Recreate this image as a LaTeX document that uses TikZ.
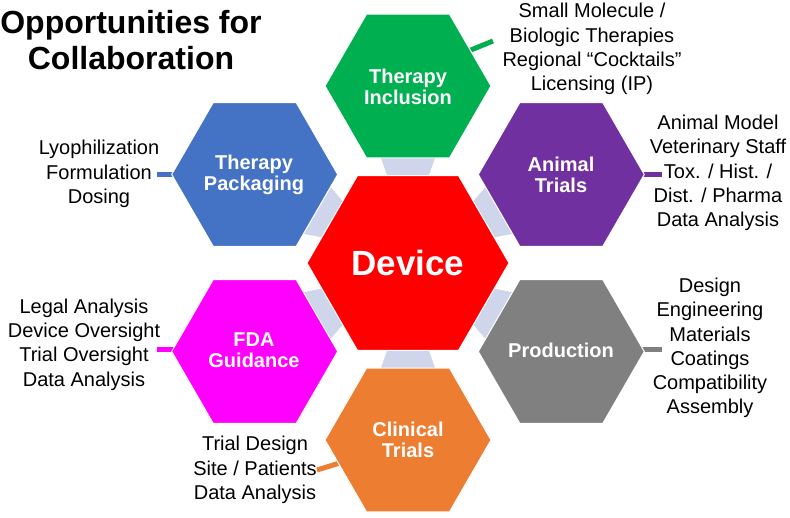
\documentclass[tikz,border=0pt]{standalone}
\usepackage{fontspec}
\setmainfont{Liberation Sans}
\usetikzlibrary{calc}
\definecolor{hgreen}{HTML}{00B050}
\definecolor{hpurple}{HTML}{7030A0}
\definecolor{hblue}{HTML}{4472C4}
\definecolor{hmagenta}{HTML}{FF00FF}
\definecolor{hgray}{HTML}{808080}
\definecolor{horange}{HTML}{ED7D31}
\definecolor{hred}{HTML}{FF0000}
\definecolor{hconn}{HTML}{CFD5EA}
\newcommand\myhex[3]{\fill[#3, draw=white, line width=1] ($(#1)+(0:#2)$) -- ($(#1)+(60:#2)$) -- ($(#1)+(120:#2)$) -- ($(#1)+(180:#2)$) -- ($(#1)+(240:#2)$) -- ($(#1)+(300:#2)$) -- cycle;}
\begin{document}
\begin{tikzpicture}[x=1pt,y=-1pt,
  hexlabel/.style={text=white, font=\fontsize{20}{21}\selectfont\bfseries, align=center, inner sep=0},
  listtext/.style={text=black, font=\fontsize{20}{24.3}\selectfont, align=center, inner sep=0},
  lead/.style={line width=5}]
\useasboundingbox (0,0) rectangle (790,518);
\fill[white] (0,0) rectangle (790,518);
% centres
\coordinate (C) at (408,263);
\coordinate (T) at (408,86);
\coordinate (B) at (408,440);
\coordinate (UL) at (254.7,174.5);
\coordinate (UR) at (561.3,174.5);
\coordinate (LL) at (254.7,351.5);
\coordinate (LR) at (561.3,351.5);
% connectors (trapezoids)
\foreach \a in {30,90,150,210,270,330}{
  \fill[hconn] ($(C)+(\a:88)+(\a+90:21)$) -- ($(C)+(\a:105)+(\a+90:27)$) -- ($(C)+(\a:105)+(\a-90:27)$) -- ($(C)+(\a:88)+(\a-90:21)$) -- cycle;
}
% leader line end points
\coordinate (g1) at (466,52); \coordinate (g2) at (493,41);
\coordinate (p1) at (636,174.5); \coordinate (p2) at (662,174.5);
\coordinate (b1) at (180,174.5); \coordinate (b2) at (157,174.5);
\coordinate (m1) at (180,350); \coordinate (m2) at (157,350);
\coordinate (r1) at (636,350); \coordinate (r2) at (662,350);
\coordinate (o1) at (343,462); \coordinate (o2) at (317,470);
\draw[lead, hgreen] (g1) -- (g2);
\draw[lead, hpurple] (p1) -- (p2);
\draw[lead, hblue] (b1) -- (b2);
\draw[lead, hmagenta] (m1) -- (m2);
\draw[lead, hgray] (r1) -- (r2);
\draw[lead, horange] (o1) -- (o2);
% hexagons
\myhex{C}{101}{hred}
\myhex{T}{83}{hgreen}
\myhex{B}{83}{horange}
\myhex{UL}{83}{hblue}
\myhex{UR}{83}{hpurple}
\myhex{LL}{83}{hmagenta}
\myhex{LR}{83}{hgray}
% labels
\node[text=white, font=\fontsize{35}{36}\selectfont\bfseries, inner sep=0] (device) at (408,263) {Device};
\node[hexlabel] (tin) at (408,87) {Therapy\\Inclusion};
\node[hexlabel] (ani) at (561,175) {Animal\\Trials};
\node[hexlabel] (pkg) at (254,175) {Therapy\\Packaging};
\node[hexlabel] (fda) at (254,350) {FDA\\Guidance};
\node[hexlabel] (prod) at (561,350) {Production};
\node[hexlabel] (clin) at (408,440) {Clinical\\Trials};
% lists
\node[listtext] (lg) at (592,49) {Small Molecule /\\Biologic Therapies\\Regional “Cocktails”\\Licensing (IP)};
\node[listtext] (lp) at (718,173) {Animal Model\\Veterinary Staff\\Tox. / Hist. /\\Dist. / Pharma\\Data Analysis};
\node[listtext] (lb) at (99,174) {Lyophilization\\Formulation\\Dosing};
\node[listtext] (lm) at (84,344.5) {Legal Analysis\\Device Oversight\\Trial Oversight\\Data Analysis};
\node[listtext] (lr) at (710,348) {Design\\Engineering\\Materials\\Coatings\\Compatibility\\Assembly};
\node[listtext] (lo) at (255,470) {Trial Design\\Site / Patients\\Data Analysis};
% title
\node[text=black, font=\fontsize{32}{36}\selectfont\bfseries, align=center, inner sep=0] (title) at (131,40) {Opportunities for\\Collaboration};
\end{tikzpicture}
\end{document}
